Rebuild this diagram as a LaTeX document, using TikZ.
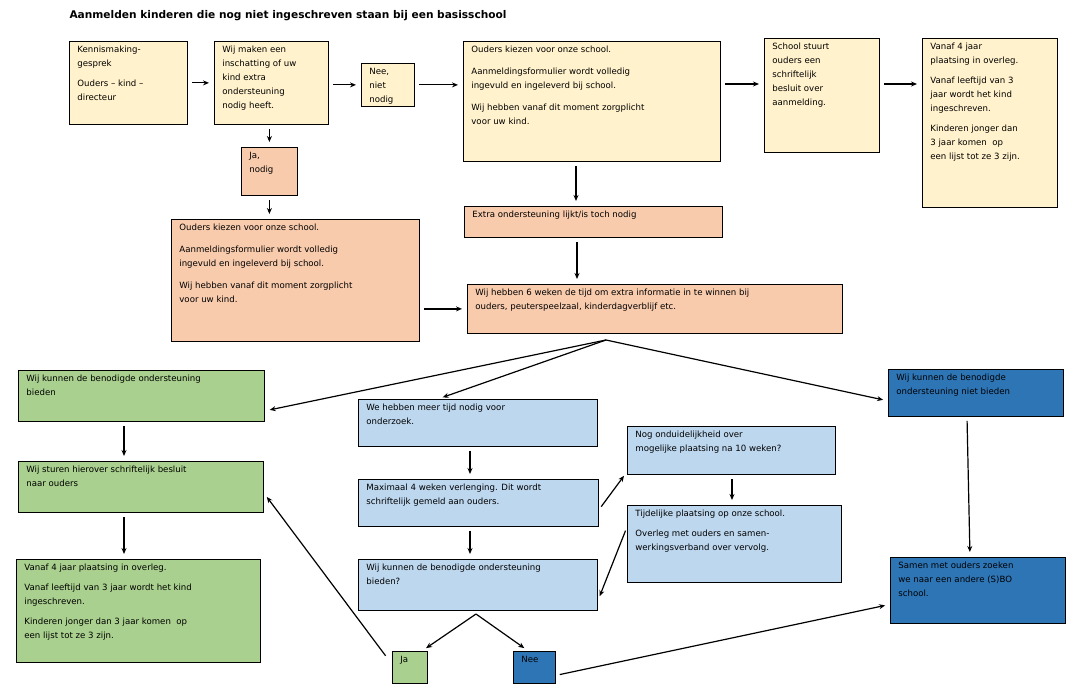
\documentclass[tikz,border=0pt]{standalone}
\usepackage{fontspec}
\setmainfont{DejaVu Sans}
\usetikzlibrary{arrows.meta}
\definecolor{geel}{HTML}{FFF2CC}
\definecolor{oranje}{HTML}{F8CBAD}
\definecolor{groen}{HTML}{A9D08E}
\definecolor{lichtblauw}{HTML}{BDD7EE}
\definecolor{donkerblauw}{HTML}{2E75B6}
\tikzset{
  box/.style={draw=black, line width=0.8pt, anchor=north west, inner xsep=8pt, inner ysep=5pt,
    font=\fontsize{8.6}{14}\selectfont},
  arr/.style={-{Stealth[length=6pt,width=5pt]}, line width=1.2pt, shorten <=4pt, shorten >=5pt}
}
% box from (x1,y1) to (x2,y2), text top-aligned
\newcommand{\flowbox}[7]{\node[box, fill=#2] (#1) at (#3,#4)
  {\parbox[c][\dimexpr#6pt-#4pt-10pt][t]{\dimexpr#5pt-#3pt-16pt}{\raggedright #7}};}
\begin{document}
\begin{tikzpicture}[x=1pt, y=-1pt]
\useasboundingbox (0,0) rectangle (1072,690);
\node[anchor=west, font=\fontsize{10.6}{12}\selectfont\bfseries] (titel) at (66,16)
  {Aanmelden kinderen die nog niet ingeschreven staan bij een basisschool};
% bovenste rij
\flowbox{kennis}{geel}{69}{41}{187}{124}{Kennismaking-\\gesprek\\[6pt]Ouders -- kind --\\directeur}
\flowbox{inschatting}{geel}{214}{41}{328}{124}{Wij maken een\\inschatting of uw\\kind extra\\ondersteuning\\nodig heeft.}
\flowbox{nee}{geel}{361}{63}{414}{106}{Nee, niet\\nodig}
\flowbox{kiezen}{geel}{463}{41}{720}{161}{Ouders kiezen voor onze school.\\[8pt]Aanmeldingsformulier wordt volledig\\ingevuld en ingeleverd bij school.\\[8pt]Wij hebben vanaf dit moment zorgplicht\\voor uw kind.}
\flowbox{besluit}{geel}{764}{38}{879}{152}{School stuurt\\ouders een\\schriftelijk\\besluit over\\aanmelding.}
\flowbox{vanaf}{geel}{922}{38}{1057}{207}{Vanaf 4 jaar\\plaatsing in overleg.\\[6pt]Vanaf leeftijd van 3\\jaar wordt het kind\\ingeschreven.\\[6pt]Kinderen jonger dan\\3 jaar komen\ \ op\\een lijst tot ze 3 zijn.}
% oranje
\flowbox{ja}{oranje}{241}{147}{297}{195}{Ja,\\nodig}
\flowbox{kiezenb}{oranje}{171}{219}{419}{341}{Ouders kiezen voor onze school.\\[8pt]Aanmeldingsformulier wordt volledig\\ingevuld en ingeleverd bij school.\\[8pt]Wij hebben vanaf dit moment zorgplicht\\voor uw kind.}
\flowbox{toch}{oranje}{464}{206}{722}{237}{Extra ondersteuning lijkt/is toch nodig}
\flowbox{weken}{oranje}{467}{284}{842}{333}{Wij hebben 6 weken de tijd om extra informatie in te winnen bij\\ouders, peuterspeelzaal, kinderdagverblijf etc.}
% groen
\flowbox{wel}{groen}{18}{370}{264}{421}{Wij kunnen de benodigde ondersteuning\\bieden}
\flowbox{schrift}{groen}{18}{461}{263}{512}{Wij sturen hierover schriftelijk besluit\\naar ouders}
\flowbox{plaatsing}{groen}{16}{559}{260}{662}{Vanaf 4 jaar plaatsing in overleg.\\[6pt]Vanaf leeftijd van 3 jaar wordt het kind\\ingeschreven.\\[6pt]Kinderen jonger dan 3 jaar komen\ \ op\\een lijst tot ze 3 zijn.}
\flowbox{jab}{groen}{392}{651}{427}{683}{Ja}
% lichtblauw
\flowbox{meer}{lichtblauw}{358}{399}{597}{446}{We hebben meer tijd nodig voor\\onderzoek.}
\flowbox{verlenging}{lichtblauw}{358}{479}{598}{526}{Maximaal 4 weken verlenging. Dit wordt\\schriftelijk gemeld aan ouders.}
\flowbox{kunnen}{lichtblauw}{358}{559}{597}{610}{Wij kunnen de benodigde ondersteuning\\bieden?}
\flowbox{onduidelijk}{lichtblauw}{627}{426}{835}{474}{Nog onduidelijkheid over\\mogelijke plaatsing na 10 weken?}
\flowbox{tijdelijk}{lichtblauw}{627}{505}{841}{582}{Tijdelijke plaatsing op onze school.\\[6pt]Overleg met ouders en samen-\\werkingsverband over vervolg.}
% donkerblauw
\flowbox{niet}{donkerblauw}{888}{369}{1063}{416}{Wij kunnen de benodigde\\ondersteuning niet bieden}
\flowbox{andere}{donkerblauw}{890}{557}{1065}{623}{Samen met ouders zoeken\\we naar een andere (S)BO\\school.}
\flowbox{neeb}{donkerblauw}{513}{651}{555}{683}{Nee}
\coordinate (splits) at (606,340);
\coordinate (keuze) at (476,614);
% pijlen
\draw[arr] (kennis.east) -- (kennis.east -| inschatting.west);
\draw[arr] (inschatting.east |- nee.west) -- (nee.west);
\draw[arr] (nee.east) -- (nee.east -| kiezen.west);
\draw[arr] (kiezen.east |- 0,84) -- (besluit.west |- 0,84);
\draw[arr] (besluit.east |- 0,84) -- (vanaf.west |- 0,84);
\draw[arr] (inschatting.south -| ja.north) -- (ja.north);
\draw[arr] (ja.south) -- (ja.south |- kiezenb.north);
\draw[arr] (kiezen.south -| 576,0) -- (toch.north -| 576,0);
\draw[arr] (toch.south -| 577,0) -- (weken.north -| 577,0);
\draw[arr] (kiezenb.east |- weken.west) -- (weken.west);
\draw[arr, shorten <=0pt] (splits) -- ([yshift=-15pt]wel.east);
\draw[arr, shorten <=0pt] (splits) -- ([xshift=-40pt]meer.north);
\draw[arr, shorten <=0pt] (splits) -- ([yshift=-8pt]niet.west);
\draw[arr] (wel.south -| 124,0) -- (schrift.north -| 124,0);
\draw[arr] (schrift.south -| 124,0) -- (plaatsing.north -| 124,0);
\draw[arr] (meer.south -| 470,0) -- (verlenging.north -| 470,0);
\draw[arr] (verlenging.south -| 470,0) -- (kunnen.north -| 470,0);
\draw[arr] ([yshift=-7pt]verlenging.east) -- ([yshift=3pt]onduidelijk.south west);
\draw[arr] (onduidelijk.south -| 732,0) -- (tijdelijk.north -| 732,0);
\draw[arr] ([yshift=17pt]tijdelijk.west) -- ([yshift=-16pt]kunnen.east);
\draw[arr, shorten <=0pt] (keuze) -- ([xshift=12pt]jab.north);
\draw[arr, shorten <=0pt] (keuze) -- ([xshift=-6pt]neeb.north);
\draw[arr] ([xshift=-4pt,yshift=-8pt]jab.north west) -- ([yshift=-6pt]schrift.east);
\draw[arr] ([yshift=-8pt]neeb.east) -- ([yshift=-14pt]andere.west);
\draw[arr] (niet.south -| 967,0) -- (andere.north -| 970,0);
\end{tikzpicture}
\end{document}
